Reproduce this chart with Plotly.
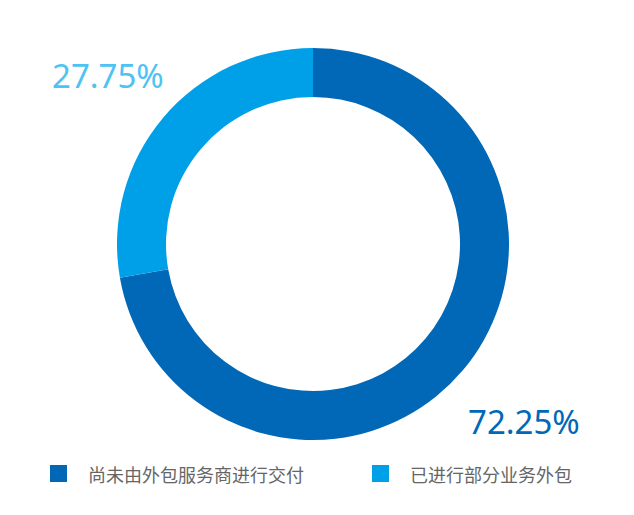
import plotly.graph_objects as go

# Donut data
labels = ['尚未由外包服务商进行交付', '已进行部分业务外包']
values = [72.25, 27.75]
colors = ['#0068B7', '#00A0E9']
label_colors = ['#0068B7', '#4DC3F2']

W, H = 634, 515
OFF = 8  # page body margin pushes the plot down/right


def px(x):
    return (x - OFF) / W


def py(y):
    return 1 - (y - OFF) / H


fig = go.Figure()
fig.add_trace(go.Pie(
    labels=labels, values=values, hole=0.75, sort=False,
    direction='clockwise', rotation=0,
    marker=dict(colors=colors, line=dict(width=0)),
    textinfo='none', hoverinfo='label+percent',
    domain=dict(x=[px(117), px(509)], y=[py(440), py(48)]),
    showlegend=False,
))

# percentage labels outside the ring
label_pos = [(466, 421), (50, 75)]
for v, c, (lx, ly) in zip(values, label_colors, label_pos):
    fig.add_annotation(x=px(lx), y=py(ly), xref='paper', yref='paper',
                       xanchor='left', yanchor='middle', showarrow=False,
                       text=f'{v:.2f}%',
                       font=dict(size=33, color=c, family='Noto Sans'))

# legend: squares + text
legend_x = [50, 372]
for name, c, lx in zip(labels, colors, legend_x):
    fig.add_shape(type='rect', xref='paper', yref='paper',
                  x0=px(lx), x1=px(lx + 17), y0=py(482), y1=py(465),
                  fillcolor=c, line=dict(width=0))
    fig.add_annotation(x=px(lx + 36), y=py(474), xref='paper', yref='paper',
                       xanchor='left', yanchor='middle', showarrow=False,
                       text=name,
                       font=dict(size=18, color='#666666', family='Noto Sans CJK SC'))

fig.update_layout(
    width=W, height=H,
    margin=dict(l=0, r=0, t=0, b=0),
    paper_bgcolor='white', plot_bgcolor='white',
)

fig.write_html('out.html')
